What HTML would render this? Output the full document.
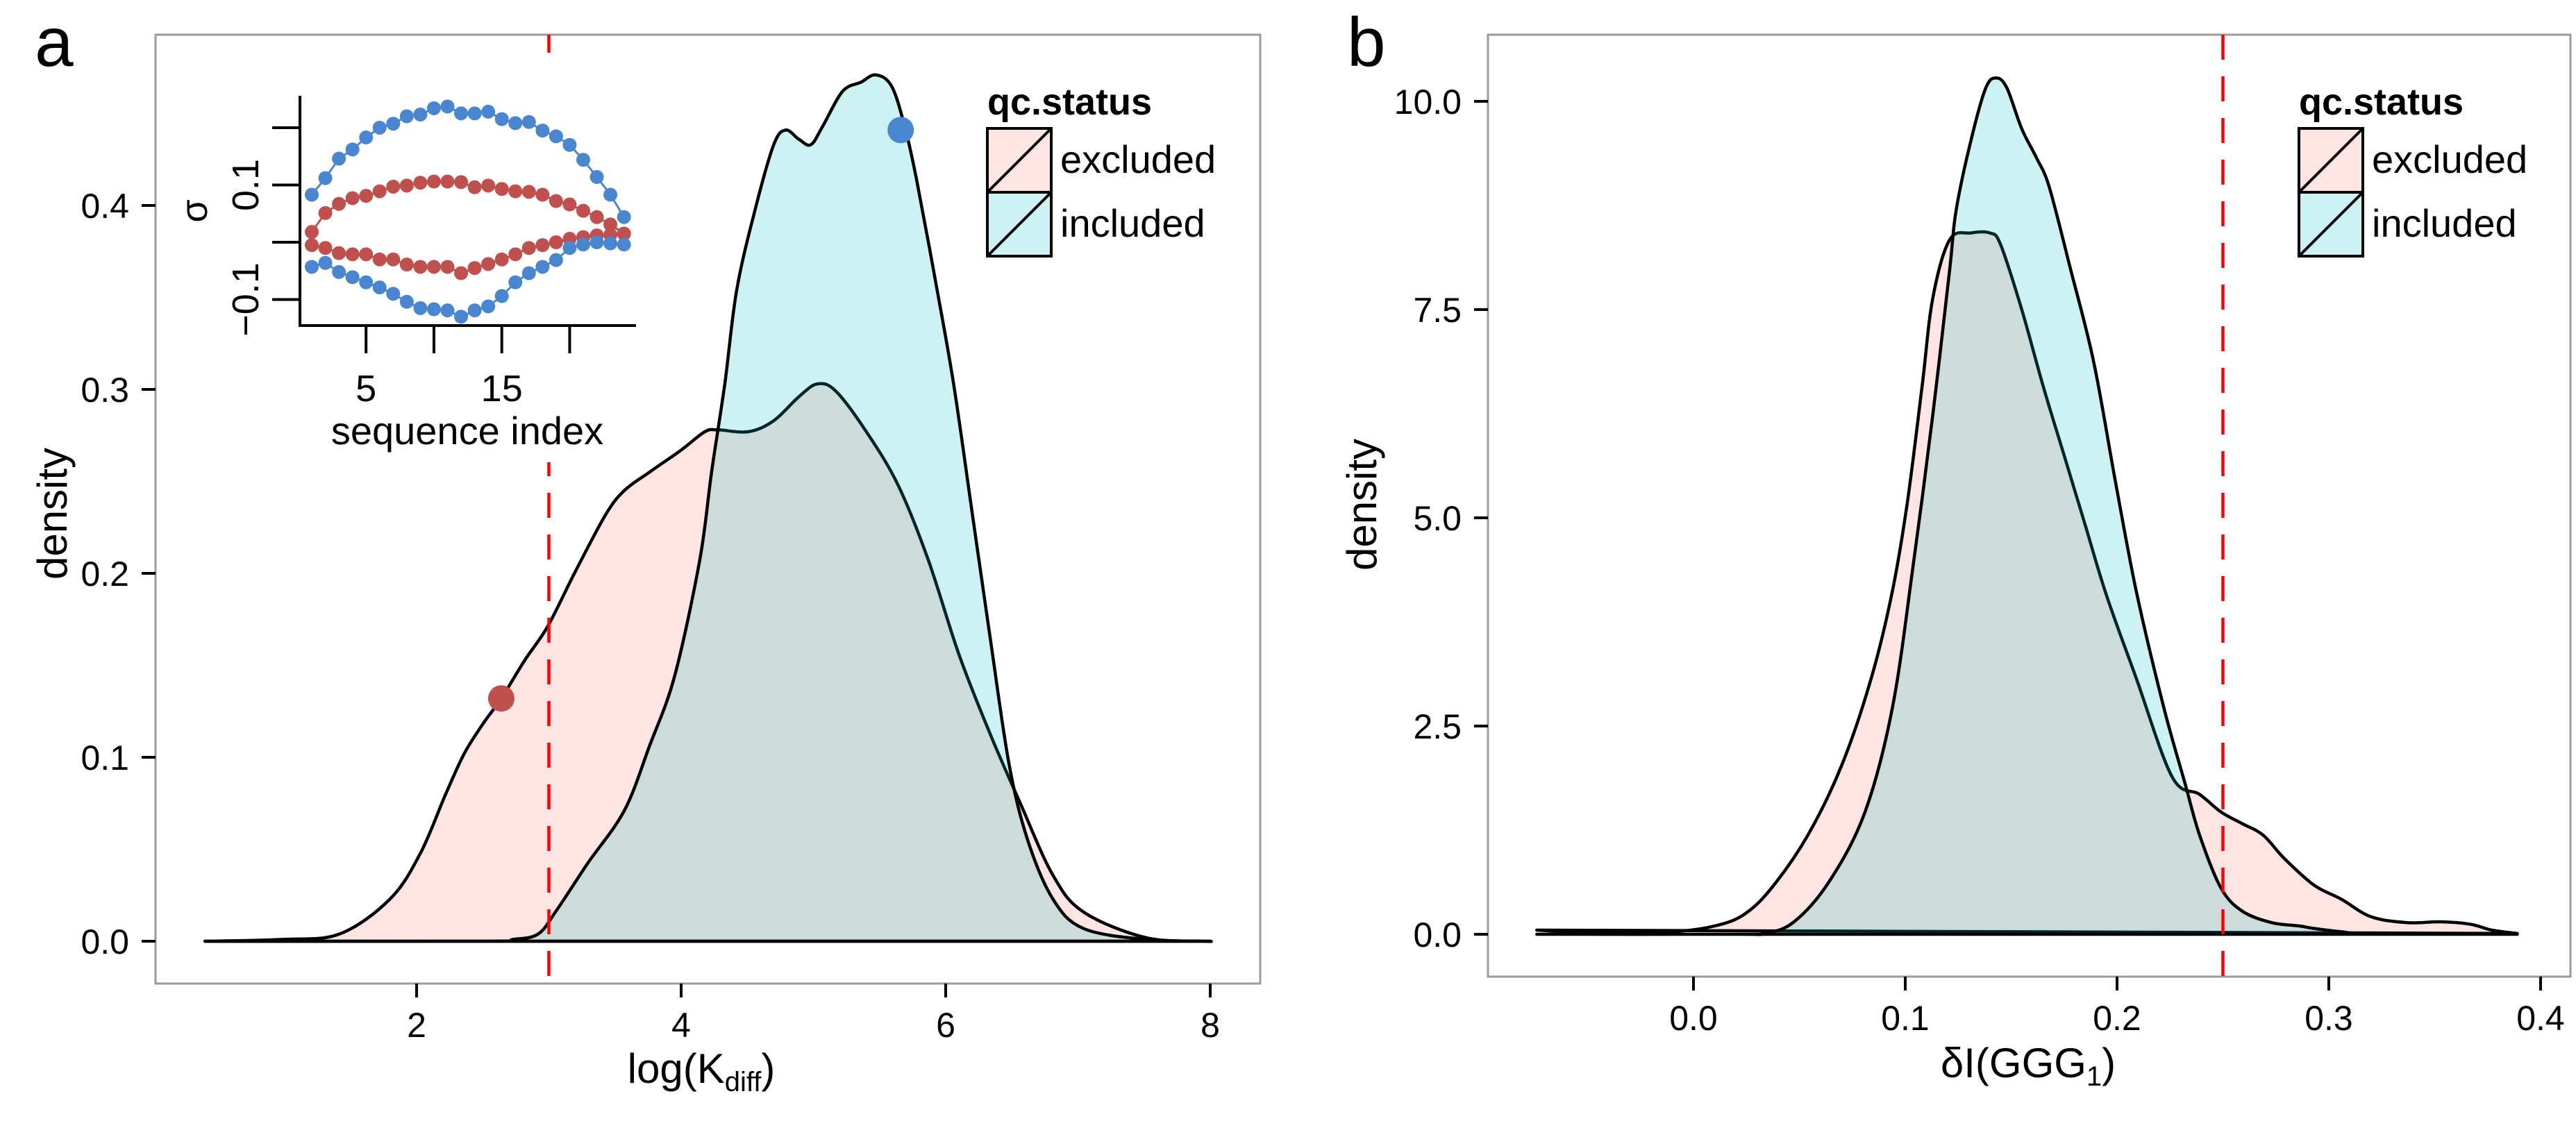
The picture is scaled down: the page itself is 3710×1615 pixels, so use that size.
<!DOCTYPE html>
<html><head><meta charset="utf-8">
<style>
html,body{margin:0;padding:0;background:#fff;}
svg{display:block;font-family:"Liberation Sans",sans-serif;}
</style></head>
<body>
<svg id="fig" width="3710" height="1615" viewBox="0 0 3710 1615" xmlns="http://www.w3.org/2000/svg">
<text x="50" y="95" font-size="100">a</text>
<text x="1940" y="95" font-size="100">b</text>
</svg>
<script>
// ---------- Panel A data ----------
const aExclX = [0.4,1.0,1.42,1.80,2.03,2.22,2.36,2.50,2.64,2.82,2.99,3.20,3.43,3.57,3.76,4.00,4.18,4.28,4.51,4.70,4.89,5.03,5.17,5.40,5.64,5.87,6.10,6.34,6.57,6.81,7.04,7.51,7.96,8.0];
const aExclY = [0,0.001,0.004,0.023,0.048,0.080,0.102,0.118,0.132,0.153,0.171,0.201,0.232,0.245,0.255,0.267,0.277,0.278,0.277,0.283,0.296,0.303,0.299,0.277,0.248,0.207,0.156,0.112,0.074,0.036,0.016,0.002,0,0];
const aInclX = [0.4,2.5,2.73,2.92,3.06,3.29,3.57,3.76,3.95,4.14,4.23,4.33,4.42,4.56,4.70,4.79,4.89,4.98,5.07,5.22,5.36,5.47,5.59,5.69,5.78,5.92,6.06,6.20,6.34,6.48,6.62,6.81,7.04,7.51,8.0];
const aInclY = [0,0,0.001,0.004,0.017,0.042,0.071,0.106,0.144,0.207,0.255,0.303,0.354,0.398,0.433,0.441,0.436,0.433,0.443,0.462,0.467,0.471,0.465,0.443,0.414,0.360,0.303,0.233,0.163,0.096,0.055,0.023,0.007,0.001,0];
const aXTicks = [2,4,6,8];
const aYTicks = [0,0.1,0.2,0.3,0.4];
const aThreshold = 3.0;
const aRedPoint = [2.64,0.132];
const aBluePoint = [5.66,0.441];
// inset data
const insetIdx = [1,2,3,4,5,6,7,8,9,10,11,12,13,14,15,16,17,18,19,20,21,22,23,24];
const insetBlueTop = [0.083,0.112,0.146,0.162,0.183,0.200,0.207,0.220,0.223,0.234,0.237,0.225,0.225,0.228,0.215,0.208,0.210,0.195,0.185,0.170,0.144,0.114,0.083,0.044];
const insetRedTop = [0.018,0.051,0.067,0.077,0.081,0.089,0.097,0.099,0.104,0.106,0.106,0.105,0.096,0.099,0.093,0.089,0.088,0.083,0.072,0.066,0.055,0.044,0.031,0.015];
const insetRedBot = [-0.005,-0.010,-0.019,-0.021,-0.021,-0.030,-0.030,-0.039,-0.043,-0.043,-0.043,-0.054,-0.045,-0.038,-0.030,-0.021,-0.010,-0.005,0,0.006,0.009,0.012,0.013,0.015];
const insetBlueBot = [-0.043,-0.036,-0.052,-0.061,-0.070,-0.079,-0.090,-0.104,-0.115,-0.117,-0.119,-0.130,-0.119,-0.112,-0.094,-0.070,-0.054,-0.043,-0.031,-0.010,-0.004,0,-0.002,-0.004];
const insetXTicks = [5,10,15,20];
const insetXLabels = ["5","","15",""];
const insetYTicks = [-0.1,0,0.1,0.2];
const insetYLabels = ["-0.1","","0.1",""];
// ---------- Panel B data ----------
const bExclX = [-0.074,-0.044,-0.010,0.010,0.024,0.037,0.054,0.070,0.084,0.094,0.101,0.108,0.113,0.121,0.131,0.140,0.145,0.155,0.165,0.175,0.185,0.195,0.209,0.226,0.239,0.249,0.259,0.269,0.279,0.293,0.306,0.320,0.337,0.353,0.367,0.377,0.389];
const bExclY = [0.05,0.01,0.03,0.10,0.24,0.56,1.19,2.03,3.08,4.13,5.19,6.59,7.64,8.34,8.42,8.42,8.28,7.50,6.59,5.75,4.91,4.07,3.08,1.89,1.68,1.47,1.33,1.19,0.91,0.59,0.42,0.21,0.14,0.15,0.12,0.05,0.01];
const bInclX = [-0.074,0.02,0.033,0.047,0.064,0.081,0.094,0.104,0.113,0.121,0.124,0.131,0.138,0.143,0.148,0.155,0.162,0.168,0.178,0.189,0.199,0.209,0.222,0.232,0.239,0.249,0.259,0.273,0.286,0.293,0.306,0.320,0.389];
const bInclY = [0,0,0.01,0.14,0.63,1.47,2.73,4.48,6.24,7.99,8.69,9.53,10.16,10.28,10.16,9.67,9.32,8.97,7.99,6.87,5.47,4.13,2.73,1.82,1.19,0.56,0.28,0.14,0.10,0.07,0.03,0.01,0];
const bXTicks = [0.0,0.1,0.2,0.3,0.4];
const bXLabels = ["0.0","0.1","0.2","0.3","0.4"];
const bYTicks = [0,2.5,5,7.5,10];
const bYLabels = ["0.0","2.5","5.0","7.5","10.0"];
const bThreshold = 0.25;

const NS="http://www.w3.org/2000/svg";
const svg=document.getElementById('fig');
function mk(tag,attrs,parent){const e=document.createElementNS(NS,tag);for(const k in attrs)e.setAttribute(k,attrs[k]);(parent||svg).appendChild(e);return e;}
function smooth(pts){
  let d="M"+pts[0][0].toFixed(1)+","+pts[0][1].toFixed(1);
  for(let i=0;i<pts.length-1;i++){
    const p0=pts[Math.max(0,i-1)],p1=pts[i],p2=pts[i+1],p3=pts[Math.min(pts.length-1,i+2)];
    const c1=[p1[0]+(p2[0]-p0[0])/6,p1[1]+(p2[1]-p0[1])/6];
    const c2=[p2[0]-(p3[0]-p1[0])/6,p2[1]-(p3[1]-p1[1])/6];
    d+=" C"+c1[0].toFixed(1)+","+c1[1].toFixed(1)+" "+c2[0].toFixed(1)+","+c2[1].toFixed(1)+" "+p2[0].toFixed(1)+","+p2[1].toFixed(1);
  }
  return d;
}
function txt(x,y,s,size,attrs,parent){const t=mk('text',Object.assign({x:x,y:y,'font-size':size},attrs||{}),parent);t.textContent=s;return t;}

function panel(cfg){
  const g=mk('g',{});
  
  
  const sx=v=>cfg.x0+(v-cfg.xv0)*cfg.xs;
  const sy=v=>cfg.y0-v*cfg.ys;
  const bd=mk('rect',{x:cfg.L,y:cfg.T,width:cfg.R-cfg.L,height:cfg.B-cfg.T,fill:'#fff',stroke:'#9a9a9a','stroke-width':3},g);
  
  
  [[cfg.ex,cfg.ey,'#F8766D','density-excluded'],[cfg.ix,cfg.iy,'#00BFC4','density-included']].forEach(s=>{
    const pts=s[0].map((v,i)=>[sx(v),sy(s[1][i])]);
    const p=mk('path',{d:smooth(pts)+" Z",fill:s[2],'fill-opacity':0.2,stroke:'#000','stroke-width':4.5,'stroke-linejoin':'round'},g);
    
    
  });
  const th=mk('line',{x1:sx(cfg.th),x2:sx(cfg.th),y1:cfg.T,y2:cfg.B,stroke:'#ff0000','stroke-width':4.5,'stroke-dasharray':'36,24'},g);
  
  
  cfg.xt.forEach((v,i)=>{
    const l=mk('line',{x1:sx(v),x2:sx(v),y1:cfg.B,y2:cfg.B+20,stroke:'#000','stroke-width':4},g);
    
    
    const t=txt(sx(v),cfg.B+77,cfg.xl[i],50,{'text-anchor':'middle'},g);
    
    
  });
  cfg.yt.forEach((v,i)=>{
    const l=mk('line',{x1:cfg.L-20,x2:cfg.L,y1:sy(v),y2:sy(v),stroke:'#000','stroke-width':4},g);
    
    
    const t=txt(cfg.L-38,sy(v)+18,cfg.yl[i],50,{'text-anchor':'end'},g);
    
    
  });
  const yt=txt(0,0,'density',60,{'text-anchor':'middle',transform:'translate('+(cfg.ytx)+','+cfg.yty+') rotate(-90)'},g);
  
  
  const lg=mk('g',{},g);
  
  
  txt(cfg.lx,165,'qc.status',54,{'font-weight':'bold'},lg);
  [['excluded','#F8766D',185],['included','#00BFC4',277]].forEach(e=>{
    const r=mk('rect',{x:cfg.lx,y:e[2],width:92,height:92,fill:e[1],'fill-opacity':0.2,stroke:'#000','stroke-width':4},lg);
    
    
    mk('line',{x1:cfg.lx,y1:e[2]+92,x2:cfg.lx+92,y2:e[2],stroke:'#000','stroke-width':4},lg);
    const t=txt(cfg.lx+105,e[2]+64,e[0],56,{},lg);
    
    
  });
  return {g,sx,sy};
}

const A=panel({name:'panel-a',L:224,R:1815,T:50,B:1417,x0:219,xv0:0,xs:190.5,y0:1356,ys:2650,
  ex:aExclX,ey:aExclY,ix:aInclX,iy:aInclY,th:aThreshold,xt:aXTicks,xl:aXTicks.map(String),
  yt:aYTicks,yl:aYTicks.map(v=>v.toFixed(1)),ytx:96,yty:740,lx:1422});
const B=panel({name:'panel-b',L:2143,R:3702,T:50,B:1407,x0:2439,xv0:0,xs:3050,y0:1346,ys:120,
  ex:bExclX,ey:bExclY,ix:bInclX,iy:bInclY,th:bThreshold,xt:bXTicks,xl:bXLabels,
  yt:bYTicks,yl:bYLabels,ytx:1982,yty:727,lx:3311});

const xa=mk('text',{x:1010,y:1560,'font-size':60,'text-anchor':'middle'});


xa.innerHTML='log(K<tspan font-size="40" dy="12">diff</tspan><tspan dy="-12">)</tspan>';
const xb=mk('text',{x:2921,y:1552,'font-size':60,'text-anchor':'middle'});


xb.innerHTML='δI(GGG<tspan font-size="40" dy="12">1</tspan><tspan dy="-12">)</tspan>';

const rp=mk('circle',{cx:A.sx(aRedPoint[0]),cy:A.sy(aRedPoint[1]),r:19,fill:'#c0504d'});


const bp=mk('circle',{cx:A.sx(aBluePoint[0]),cy:A.sy(aBluePoint[1]),r:19,fill:'#4a86d0'});



// inset
const ig=mk('g',{});


const ibg=mk('rect',{x:240,y:76,width:700,height:590,fill:'#fff'},ig);


const ix=v=>449+(v-1)*19.55;
const iy=v=>349-v*825;
mk('line',{x1:432,y1:138,x2:432,y2:470,stroke:'#000','stroke-width':4},ig);
mk('line',{x1:430,y1:469,x2:916,y2:469,stroke:'#000','stroke-width':4},ig);
insetXTicks.forEach((v,i)=>{
  const l=mk('line',{x1:ix(v),x2:ix(v),y1:469,y2:509,stroke:'#000','stroke-width':4},ig);
  
  
  if(insetXLabels[i]){const t=txt(ix(v),578,insetXLabels[i],54,{'text-anchor':'middle'},ig);
  
  }
});
insetYTicks.forEach((v,i)=>{
  const l=mk('line',{x1:392,x2:432,y1:iy(v),y2:iy(v),stroke:'#000','stroke-width':4},ig);
  
  
  if(insetYLabels[i]){const t=txt(0,0,insetYLabels[i].replace('-','\u2212'),54,{'text-anchor':'middle',transform:'translate(372,'+iy(v)+') rotate(-90)'},ig);
  
  }
});
const st=txt(0,0,'σ',54,{'text-anchor':'middle',transform:'translate(298,304) rotate(-90)'},ig);


const sxT=txt(673,640,'sequence index',56,{'text-anchor':'middle'},ig);


[[insetBlueTop,'#4a86d0','inset-blue-upper'],[insetRedTop,'#c0504d','inset-red-upper'],[insetRedBot,'#c0504d','inset-red-lower'],[insetBlueBot,'#4a86d0','inset-blue-lower']].forEach(s=>{
  const sg=mk('g',{},ig);
  
  
  mk('polyline',{points:insetIdx.map((k,i)=>ix(k)+','+iy(s[0][i])).join(' '),fill:'none',stroke:s[1],'stroke-width':3},sg);
  insetIdx.forEach((k,i)=>{
    const c=mk('circle',{cx:ix(k),cy:iy(s[0][i]),r:10,fill:s[1]},sg);
    
    
  });
});
</script>
</body></html>
